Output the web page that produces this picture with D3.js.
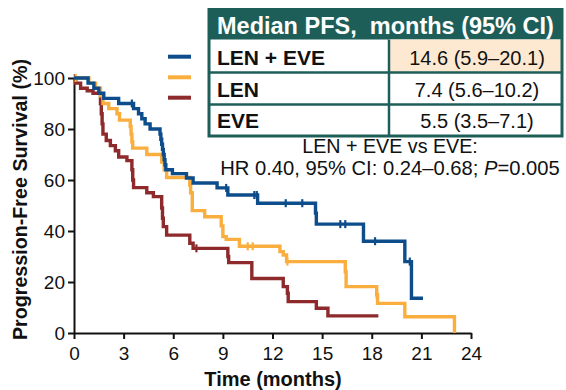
<!DOCTYPE html>
<html>
<head>
<meta charset="utf-8">
<script src="https://cdn.jsdelivr.net/npm/d3@7"></script>
<style>
  html, body { margin: 0; padding: 0; background: #fff; }
  svg { display: block; font-family: "Liberation Sans", Arial, sans-serif; }
</style>
</head>
<body>
<svg id="chart" width="566" height="390"></svg>
<script>
// Axis ticks
const timeTicks = [0, 3, 6, 9, 12, 15, 18, 21, 24];
const survTicks = [0, 20, 40, 60, 80, 100];

// Kaplan-Meier steps: time of each drop (months) and survival (%) after it
const lenEveTimes = [0, 0.85, 1.2, 1.5, 1.8, 2.7, 3.6, 3.9, 4.1, 4.3, 4.6, 5.2, 5.25, 5.3, 5.35, 5.4, 5.45, 5.5, 5.55, 5.95, 6.8, 7.2, 8.65, 9.3, 11.1, 14.6, 14.65, 17.5, 20.0, 20.4];
const lenEveSurv  = [100, 98, 96, 94, 92, 90, 88, 86, 84, 82, 80, 78, 76, 74, 72, 70, 68, 66, 64, 62.5, 60.8, 58.8, 56.9, 54.1, 50.9, 47, 42.7, 36, 28, 13.6];
const lenEveEnd = 21.1;
const lenEveCensor = [3.5, 9.2, 10.9, 11.05, 12.8, 13.8, 16.1, 16.4, 18.2, 20.3];

const lenTimes = [0, 0.9, 1.3, 1.6, 1.75, 2.1, 2.6, 2.75, 3.4, 3.45, 3.5, 3.55, 4.4, 5.3, 5.45, 5.6, 7.0, 7.05, 7.15, 7.9, 8.9, 9.0, 9.2, 10.0, 12.45, 12.65, 12.85, 16.4, 16.45, 18.3, 18.35, 20.0, 23.0];
const lenSurv  = [100, 98, 96, 93, 90, 88, 86, 83.5, 81, 78, 75, 72.5, 70, 67, 64, 61, 58, 55, 48, 45.6, 42, 37.8, 36.7, 34, 31.9, 30.6, 28, 24, 18.2, 15, 11.6, 6.4, 0];
const lenEnd = 23.0;
const lenCensor = [0.1, 10.5, 10.8, 12.9, 18.3];

const eveTimes = [0, 0.1, 0.4, 0.8, 1.15, 1.6, 1.65, 1.7, 1.75, 1.95, 2.2, 2.5, 2.7, 3.2, 3.5, 3.55, 3.6, 4.4, 4.8, 5.3, 5.35, 5.4, 5.6, 7.0, 7.2, 9.3, 9.35, 10.75, 12.65, 12.9, 12.95, 14.65, 15.35];
const eveSurv  = [100, 98, 96, 95, 94, 90, 86, 82, 78, 75.5, 73.5, 71.5, 69, 67.6, 64, 60, 57, 55, 53.5, 49, 45, 41.7, 38.4, 35.2, 33.2, 30, 27.6, 21.4, 18.2, 15.6, 12.3, 9.7, 6.7];
const eveEnd = 18.4;
const eveCensor = [0.05, 7.4];

const groupNames = ["LEN + EVE", "LEN", "EVE"];
const groupColors = ["#0d4d8b", "#f9ae3e", "#8e2a2b"];

// Table contents
const tableHeader = "Median PFS,  months (95% CI)";
const medianText = ["14.6 (5.9–20.1)", "7.4 (5.6–10.2)", "5.5 (3.5–7.1)"];

const svg = d3.select("#chart");

const x = d3.scaleLinear().domain([0, 24]).range([74, 471]);
const y = d3.scaleLinear().domain([0, 100]).range([333, 78]);

// Axes
const xAxis = svg.append("g")
  .attr("transform", `translate(0,${y(0)})`)
  .call(d3.axisBottom(x).tickValues(timeTicks).tickSize(6).tickPadding(8).tickSizeOuter(0));
const yAxis = svg.append("g")
  .attr("transform", `translate(${x(0)},0)`)
  .call(d3.axisLeft(y).tickValues(survTicks).tickSize(6).tickPadding(3).tickSizeOuter(0));

[xAxis, yAxis].forEach(g => {
  g.select(".domain").attr("stroke", "#111").attr("stroke-width", 2);
  g.selectAll(".tick line").attr("stroke", "#111").attr("stroke-width", 2);
  g.selectAll(".tick text").attr("font-size", 19).attr("fill", "#111")
    .attr("font-family", "Liberation Sans, Arial, sans-serif");
});

svg.append("text")
  .attr("x", 273).attr("y", 386)
  .attr("text-anchor", "middle")
  .attr("font-size", 20).attr("font-weight", "bold").attr("fill", "#111")
  .text("Time (months)");

svg.append("text")
  .attr("transform", `translate(27,${(y(0) + y(100)) / 2 - 6}) rotate(-90)`)
  .attr("text-anchor", "middle")
  .attr("font-size", 19.7).attr("font-weight", "bold").attr("fill", "#111")
  .text("Progression-Free Survival (%)");

// Survival curves
const series = [
  { times: eveTimes, surv: eveSurv, end: eveEnd, censor: eveCensor, color: groupColors[2] },
  { times: lenTimes, surv: lenSurv, end: lenEnd, censor: lenCensor, color: groupColors[1] },
  { times: lenEveTimes, surv: lenEveSurv, end: lenEveEnd, censor: lenEveCensor, color: groupColors[0] }
];

const line = d3.line().x(d => x(d[0])).y(d => y(d[1])).curve(d3.curveStepAfter);

function survAt(s, t) {
  const i = d3.bisectRight(s.times, t) - 1;
  return s.surv[Math.max(0, i)];
}

series.forEach(s => {
  const pts = s.times.map((t, i) => [t, s.surv[i]]);
  if (s.end > s.times[s.times.length - 1]) pts.push([s.end, s.surv[s.surv.length - 1]]);
  svg.append("path")
    .attr("d", line(pts))
    .attr("fill", "none")
    .attr("stroke", s.color)
    .attr("stroke-width", 3.4)
    .attr("stroke-linejoin", "miter");
  svg.append("g").selectAll("line")
    .data(s.censor)
    .join("line")
    .attr("x1", d => x(d)).attr("x2", d => x(d))
    .attr("y1", d => y(survAt(s, d)) - 4)
    .attr("y2", d => y(survAt(s, d)) + 4)
    .attr("stroke", s.color)
    .attr("stroke-width", 2.2);
});

// Legend swatches
const legendY = [56.7, 77.3, 97.7];
svg.append("g").selectAll("line")
  .data(groupColors)
  .join("line")
  .attr("x1", 168).attr("x2", 191)
  .attr("y1", (d, i) => legendY[i]).attr("y2", (d, i) => legendY[i])
  .attr("stroke", d => d)
  .attr("stroke-width", 4);

// Median PFS table
const teal = "#1e5e59";
const tx0 = 209, tx1 = 562, tcol = 389;
const rowTops = [9.5, 39.5, 72.5, 104.5, 136];

const table = svg.append("g");
table.append("rect")
  .attr("x", tx0).attr("y", rowTops[0])
  .attr("width", tx1 - tx0).attr("height", rowTops[1] - rowTops[0])
  .attr("fill", teal);
table.append("rect")
  .attr("x", tcol).attr("y", rowTops[1])
  .attr("width", tx1 - tcol).attr("height", rowTops[2] - rowTops[1])
  .attr("fill", "#fde9d1");
table.append("rect")
  .attr("x", tx0).attr("y", rowTops[0])
  .attr("width", tx1 - tx0).attr("height", rowTops[4] - rowTops[0])
  .attr("fill", "none").attr("stroke", teal).attr("stroke-width", 3);
[2, 3].forEach(i => {
  table.append("line")
    .attr("x1", tx0).attr("x2", tx1)
    .attr("y1", rowTops[i]).attr("y2", rowTops[i])
    .attr("stroke", teal).attr("stroke-width", 2.5);
});
table.append("line")
  .attr("x1", tcol).attr("x2", tcol)
  .attr("y1", rowTops[1]).attr("y2", rowTops[4])
  .attr("stroke", teal).attr("stroke-width", 2.5);

table.append("text")
  .attr("x", 217).attr("y", 33.5)
  .attr("font-size", 23.5).attr("font-weight", "bold").attr("fill", "#fff")
  .style("white-space", "pre")
  .text(tableHeader);

const rowBase = [65, 96.7, 128.3];
table.selectAll("text.label")
  .data(groupNames)
  .join("text")
  .attr("class", "label")
  .attr("x", 217).attr("y", (d, i) => rowBase[i])
  .attr("font-size", 21).attr("font-weight", "bold").attr("fill", "#111")
  .text(d => d);
table.selectAll("text.value")
  .data(medianText)
  .join("text")
  .attr("class", "value")
  .attr("x", 477).attr("y", (d, i) => rowBase[i])
  .attr("text-anchor", "middle")
  .attr("font-size", 20).attr("fill", "#111")
  .text(d => d);

// Hazard ratio note
svg.append("text")
  .attr("x", 390).attr("y", 153)
  .attr("text-anchor", "middle")
  .attr("font-size", 19.7).attr("fill", "#111")
  .text("LEN + EVE vs EVE:");
const hr = svg.append("text")
  .attr("x", 390).attr("y", 174.5)
  .attr("text-anchor", "middle")
  .attr("font-size", 20.2).attr("fill", "#111");
hr.append("tspan").text("HR 0.40, 95% CI: 0.24–0.68; ");
hr.append("tspan").attr("font-style", "italic").text("P");
hr.append("tspan").text("=0.005");
</script>
</body>
</html>
